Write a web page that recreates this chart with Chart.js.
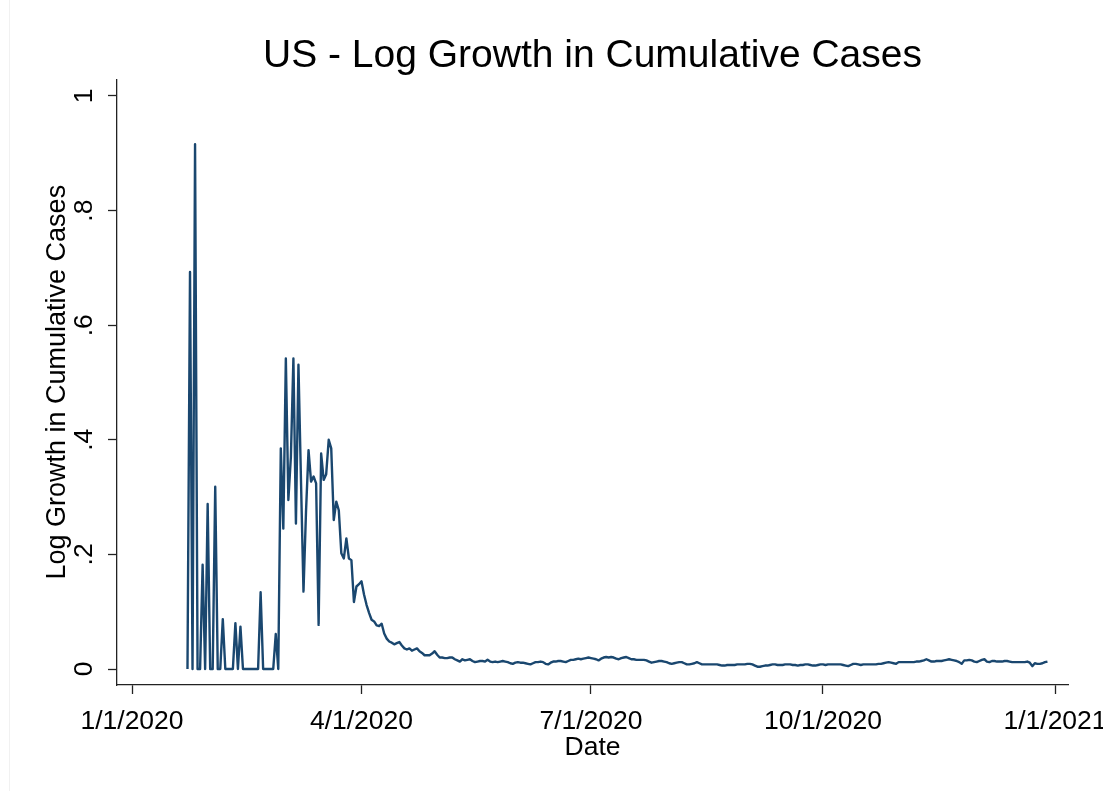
<!DOCTYPE html>
<html>
<head>
<meta charset="utf-8">
<title>US - Log Growth in Cumulative Cases</title>
<script src="https://cdn.jsdelivr.net/npm/chart.js@4.4.1/dist/chart.umd.min.js"></script>
<style>
  html, body { margin: 0; padding: 0; background: #fff; }
  #chart-container { width: 1103px; height: 791px; }
</style>
</head>
<body>
<div id="chart-container"><canvas id="growth-chart" width="1103" height="791"></canvas></div>
<script>
// Dias contados a partir de 1/1/2020 (dia 0); a série começa em 23/1/2020
const firstDay = 22;

// Crescimento logarítmico diário dos casos acumulados, mês a mês
const janValues = [0, 0.693, 0, 0.916, 0, 0, 0.182, 0, 0.288];
const febValues = [0, 0, 0.318, 0, 0, 0.087, 0, 0, 0, 0, 0.080, 0, 0.074, 0, 0, 0, 0, 0, 0, 0,
  0.134, 0, 0, 0, 0, 0, 0.061, 0, 0.385];
const marValues = [0.245, 0.542, 0.295, 0.370, 0.542, 0.254, 0.531, 0.330, 0.135, 0.275, 0.382,
  0.327, 0.336, 0.324, 0.077, 0.376, 0.330, 0.340, 0.400, 0.385, 0.260, 0.292, 0.277, 0.202,
  0.193, 0.228, 0.193, 0.190, 0.117, 0.144, 0.148];
const aprValues = [0.153, 0.130, 0.112, 0.098, 0.086, 0.083, 0.076, 0.075, 0.079, 0.062, 0.053,
  0.048, 0.046, 0.043, 0.045, 0.047, 0.041, 0.036, 0.034, 0.036, 0.032, 0.034, 0.036, 0.031,
  0.028, 0.024, 0.024, 0.024, 0.027, 0.031];
const mayValues = [0.025, 0.020, 0.020, 0.019, 0.019, 0.020, 0.020, 0.017, 0.015, 0.013, 0.017,
  0.015, 0.016, 0.017, 0.014, 0.012, 0.013, 0.014, 0.014, 0.013, 0.016, 0.013, 0.012, 0.013,
  0.012, 0.013, 0.014, 0.013, 0.012, 0.010, 0.009];
const junValues = [0.011, 0.012, 0.011, 0.011, 0.010, 0.009, 0.008, 0.010, 0.012, 0.012, 0.013,
  0.012, 0.009, 0.008, 0.011, 0.013, 0.013, 0.014, 0.014, 0.013, 0.012, 0.014, 0.016, 0.016,
  0.017, 0.018, 0.017, 0.018, 0.019, 0.020];
const julValues = [0.019, 0.018, 0.017, 0.015, 0.018, 0.020, 0.021, 0.020, 0.021, 0.020, 0.018,
  0.017, 0.019, 0.020, 0.021, 0.019, 0.017, 0.017, 0.016, 0.016, 0.016, 0.016, 0.015, 0.013,
  0.011, 0.012, 0.013, 0.014, 0.014, 0.013, 0.012];
const augValues = [0.010, 0.009, 0.010, 0.011, 0.012, 0.012, 0.010, 0.008, 0.008, 0.009, 0.010,
  0.012, 0.010, 0.008, 0.008, 0.008, 0.008, 0.008, 0.008, 0.008, 0.007, 0.006, 0.006, 0.007,
  0.007, 0.007, 0.007, 0.008, 0.008, 0.008, 0.008];
const sepValues = [0.009, 0.009, 0.008, 0.006, 0.004, 0.004, 0.005, 0.006, 0.006, 0.007, 0.008,
  0.008, 0.007, 0.007, 0.007, 0.008, 0.008, 0.008, 0.007, 0.007, 0.006, 0.007, 0.007, 0.008,
  0.008, 0.007, 0.006, 0.006, 0.007, 0.008];
const octValues = [0.008, 0.007, 0.008, 0.008, 0.008, 0.008, 0.008, 0.008, 0.007, 0.006, 0.005,
  0.007, 0.009, 0.009, 0.008, 0.007, 0.008, 0.008, 0.008, 0.008, 0.008, 0.008, 0.009, 0.009,
  0.010, 0.011, 0.012, 0.011, 0.010, 0.009, 0.012];
const novValues = [0.012, 0.012, 0.012, 0.012, 0.012, 0.012, 0.013, 0.013, 0.014, 0.015, 0.017,
  0.015, 0.013, 0.013, 0.014, 0.014, 0.014, 0.015, 0.016, 0.017, 0.016, 0.015, 0.014, 0.012,
  0.009, 0.015, 0.015, 0.016, 0.015, 0.013];
const decValues = [0.012, 0.014, 0.016, 0.017, 0.013, 0.012, 0.014, 0.014, 0.013, 0.013, 0.013,
  0.014, 0.014, 0.013, 0.012, 0.012, 0.012, 0.012, 0.012, 0.012, 0.013, 0.011, 0.005, 0.010,
  0.009, 0.009, 0.010, 0.012, 0.013];

// Marcas dos eixos
const xTickDays = [0, 91, 182, 274, 366];
const xTickLabels = ['1/1/2020', '4/1/2020', '7/1/2020', '10/1/2020', '1/1/2021'];
const yTickValues = [0, 0.2, 0.4, 0.6, 0.8, 1];
const yTickLabels = ['0', '.2', '.4', '.6', '.8', '1'];

const allValues = [].concat(janValues, febValues, marValues, aprValues, mayValues, junValues,
  julValues, augValues, sepValues, octValues, novValues, decValues);
const points = allValues.map((v, i) => ({ x: firstDay + i, y: v }));

const fontFamily = "'Liberation Sans', Arial, Helvetica, sans-serif";
const axisColor = '#222';

// Fundo branco e a moldura clara do lado esquerdo
const backgroundPlugin = {
  id: 'background',
  beforeDraw(chart) {
    const ctx = chart.ctx;
    ctx.save();
    ctx.fillStyle = '#fff';
    ctx.fillRect(0, 0, chart.width, chart.height);
    ctx.strokeStyle = '#f1f1f1';
    ctx.lineWidth = 1;
    ctx.beginPath();
    ctx.moveTo(9.5, 0);
    ctx.lineTo(9.5, chart.height);
    ctx.stroke();
    ctx.restore();
  }
};

const config = {
  type: 'line',
  data: {
    datasets: [{
      data: points,
      borderColor: '#1a476f',
      borderWidth: 2.4,
      pointRadius: 0,
      tension: 0,
      fill: false,
      borderJoinStyle: 'round'
    }]
  },
  options: {
    responsive: false,
    animation: false,
    devicePixelRatio: 1,
    layout: { padding: { left: 0, right: 35, top: 0, bottom: 0 } },
    plugins: {
      legend: { display: false },
      tooltip: { enabled: false },
      title: {
        display: true,
        text: 'US - Log Growth in Cumulative Cases',
        fullSize: false,
        color: '#000',
        font: { family: fontFamily, size: 39, weight: 'normal' },
        padding: { top: 32.6, bottom: 0 }
      }
    },
    scales: {
      x: {
        type: 'linear',
        min: -5.95,
        max: 371.15,
        afterBuildTicks: scale => { scale.ticks = xTickDays.map(v => ({ value: v })); },
        afterFit: scale => {
          scale.height = 106;
          scale.paddingLeft = 0;
          scale.paddingRight = 0;
        },
        ticks: {
          autoSkip: false,
          maxRotation: 0,
          padding: 12,
          color: '#000',
          font: { family: fontFamily, size: 26.5 },
          callback: v => xTickLabels[xTickDays.indexOf(v)]
        },
        grid: { drawOnChartArea: false, tickLength: 9, tickColor: axisColor, tickWidth: 1.3 },
        border: { color: axisColor, width: 1.3 },
        title: {
          display: true,
          text: 'Date',
          color: '#000',
          font: { family: fontFamily, size: 26.5 },
          padding: { top: 0, bottom: 27 }
        }
      },
      y: {
        type: 'linear',
        min: -0.02792,
        max: 1.02897,
        afterBuildTicks: scale => { scale.ticks = yTickValues.map(v => ({ value: v })); },
        afterFit: scale => {
          scale.width = 117;
          scale.paddingTop = 0;
          scale.paddingBottom = 0;
        },
        ticks: {
          minRotation: 90,
          maxRotation: 90,
          crossAlign: 'center',
          padding: 12,
          color: '#000',
          font: { family: fontFamily, size: 26.5 },
          callback: v => yTickLabels[yTickValues.indexOf(v)]
        },
        grid: { drawOnChartArea: false, tickLength: 9, tickColor: axisColor, tickWidth: 1.3 },
        border: { color: axisColor, width: 1.3 },
        title: {
          display: true,
          text: 'Log Growth in Cumulative Cases',
          color: '#000',
          font: { family: fontFamily, size: 27 },
          padding: { top: 41, bottom: 0 }
        }
      }
    }
  },
  plugins: [backgroundPlugin]
};

const growthChart = new Chart(document.getElementById('growth-chart').getContext('2d'), config);
</script>
</body>
</html>
